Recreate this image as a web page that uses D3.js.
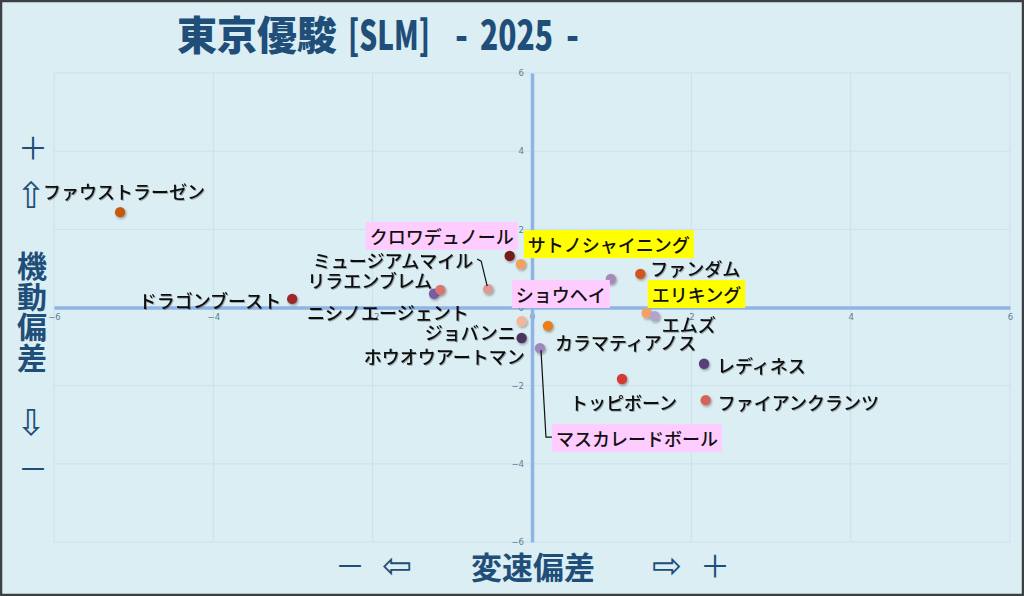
<!DOCTYPE html>
<html>
<head>
<meta charset="utf-8">
<script src="https://cdn.jsdelivr.net/npm/d3@7"></script>
<style>
html, body { margin: 0; padding: 0; background: #fff; }
svg { display: block; }
</style>
</head>
<body>
<div id="chart"></div>
<script>
// ========================
// DATA
// ========================
const horses = [
    "ファウストラーゼン", "ドラゴンブースト", "ニシノエージェント", "リラエンブレム",
    "ミュージアムマイル", "クロワデュノール", "サトノシャイニング", "ショウヘイ",
    "ファンダム", "エリキング", "エムズ", "ジョバンニ",
    "カラマティアノス", "ホウオウアートマン", "マスカレードボール", "レディネス",
    "トッピボーン", "ファイアンクランツ"
];
// 変速偏差 (x)
const speedDev = [
    -5.17, -3.01, -1.23, -1.15,
    -0.55, -0.28, -0.14, 0.99,
    1.36, 1.44, 1.54, -0.13,
    0.20, -0.13, 0.10, 2.16,
    1.13, 2.18
];
// 機動偏差 (y)
const mobilityDev = [
    2.44, 0.22, 0.35, 0.45,
    0.47, 1.32, 1.11, 0.73,
    0.86, -0.14, -0.22, -0.35,
    -0.47, -0.78, -1.04, -1.44,
    -1.83, -2.37
];
const xTicks = [-6, -4, -2, 0, 2, 4, 6];
const yTicks = [-6, -4, -2, 0, 2, 4, 6];

// ========================
// STYLE & LABEL LAYOUT
// ========================
const POINT_COLOR = {
    "ファウストラーゼン": "#c55a11", "ドラゴンブースト": "#9c2a2a", "ニシノエージェント": "#7a5ca6",
    "リラエンブレム": "#d8776d", "ミュージアムマイル": "#dc9c96", "クロワデュノール": "#771b1b",
    "サトノシャイニング": "#f1a05e", "ショウヘイ": "#a68bb9", "ファンダム": "#d1561a",
    "エリキング": "#f3a166", "エムズ": "#b4a2c9", "ジョバンニ": "#f2b79a",
    "カラマティアノス": "#e87f1f", "ホウオウアートマン": "#4a3661", "マスカレードボール": "#9f87bd",
    "レディネス": "#553f7b", "トッピボーン": "#d33a31", "ファイアンクランツ": "#d4645a"
};
const PINK = "#ffccff", YELLOW = "#ffff00";
// dx/dy: label offset from the point in px; anchor: text-anchor
const LABEL_LAYOUT = {
    "ファウストラーゼン": { dx: -77, dy: -21, anchor: "start" },
    "ドラゴンブースト": { dx: -11, dy: 1, anchor: "end" },
    "ニシノエージェント": { dx: -127, dy: 18, anchor: "start" },
    "リラエンブレム": { dx: -8, dy: -10, anchor: "end" },
    "ミュージアムマイル": { dx: -15, dy: -29, anchor: "end", leader: [[-11, -30], [-7, -28], [-1, -3]] },
    "クロワデュノール": { dx: -140, dy: -20, anchor: "start", bg: PINK },
    "サトノシャイニング": { dx: 7, dy: -20, anchor: "start", bg: YELLOW },
    "ショウヘイ": { dx: -95, dy: 15, anchor: "start", bg: PINK },
    "ファンダム": { dx: 10, dy: -6, anchor: "start" },
    "エリキング": { dx: 5, dy: -19, anchor: "start", bg: YELLOW },
    "エムズ": { dx: 7, dy: 8, anchor: "start" },
    "ジョバンニ": { dx: -6, dy: 11, anchor: "end" },
    "カラマティアノス": { dx: 7, dy: 16, anchor: "start" },
    "ホウオウアートマン": { dx: 3, dy: 18, anchor: "end" },
    "マスカレードボール": { dx: 16, dy: 90, anchor: "start", bg: PINK, leader: [[1, 2], [6, 89], [12, 89]] },
    "レディネス": { dx: 13, dy: 1, anchor: "start" },
    "トッピボーン": { dx: -52, dy: 23, anchor: "start" },
    "ファイアンクランツ": { dx: 12, dy: 2, anchor: "start" }
};

const W = 1024, H = 596;
const NAVY = "#1f4e79";
const JP = "'Noto Sans CJK JP', 'Noto Sans', sans-serif";
const ARROW_FONT = "'DejaVu Sans', sans-serif";

// ========================
// CHART
// ========================
const svg = d3.select("#chart").append("svg")
    .attr("width", W).attr("height", H);

const defs = svg.append("defs");
const ptShadow = defs.append("filter").attr("id", "ptShadow")
    .attr("x", "-50%").attr("y", "-50%").attr("width", "200%").attr("height", "200%");
ptShadow.append("feDropShadow").attr("dx", 1).attr("dy", 1.5)
    .attr("stdDeviation", 1).attr("flood-color", "#000").attr("flood-opacity", 0.35);
const txtShadow = defs.append("filter").attr("id", "txtShadow")
    .attr("x", "-10%").attr("y", "-30%").attr("width", "120%").attr("height", "160%");
txtShadow.append("feDropShadow").attr("dx", 1).attr("dy", 1)
    .attr("stdDeviation", 0.6).attr("flood-color", "#000").attr("flood-opacity", 0.3);

svg.append("rect").attr("width", W).attr("height", H).attr("fill", "#dbeef4");

const x = d3.scaleLinear().domain([-6, 6]).range([54, 1010]);
const y = d3.scaleLinear().domain([-6, 6]).range([542, 73]);

// gridlines
const grid = svg.append("g");
grid.selectAll("line.vx").data(xTicks).enter().append("line")
    .attr("x1", d => x(d)).attr("x2", d => x(d))
    .attr("y1", y(-6)).attr("y2", y(6))
    .attr("stroke", "#c9e1ed").attr("stroke-width", 1);
grid.selectAll("line.hy").data(yTicks).enter().append("line")
    .attr("y1", d => y(d)).attr("y2", d => y(d))
    .attr("x1", x(-6)).attr("x2", x(6))
    .attr("stroke", "#c9e1ed").attr("stroke-width", 1);

// axes crossing at zero
const xAxis = d3.axisBottom(x).tickValues(xTicks).tickSize(0).tickPadding(6);
const yAxis = d3.axisLeft(y).tickValues(yTicks).tickSize(0).tickPadding(8);

const gx = svg.append("g").attr("transform", `translate(0,${y(0)})`).call(xAxis);
const gy = svg.append("g").attr("transform", `translate(${x(0)},0)`).call(yAxis);
[gx, gy].forEach(g => {
    g.select(".domain").attr("stroke", "#8fb4e3").attr("stroke-width", 3.5);
    g.selectAll("text").attr("fill", "#5f7d95").attr("font-size", "8.5px")
        .attr("font-family", "'DejaVu Sans', sans-serif");
});

// points
svg.append("g").selectAll("circle")
    .data(horses).enter().append("circle")
    .attr("cx", (d, i) => x(speedDev[i]))
    .attr("cy", (d, i) => y(mobilityDev[i]))
    .attr("r", 5.2)
    .attr("fill", d => POINT_COLOR[d])
    .attr("filter", "url(#ptShadow)");

// leader lines
const line = d3.line();
const leaders = svg.append("g");
horses.forEach((h, i) => {
    const lay = LABEL_LAYOUT[h];
    if (!lay.leader) return;
    const px = x(speedDev[i]), py = y(mobilityDev[i]);
    leaders.append("path")
        .attr("d", line(lay.leader.map(p => [px + p[0], py + p[1]])))
        .attr("fill", "none").attr("stroke", "#111").attr("stroke-width", 1.2);
});

// labels
const labels = svg.append("g");
horses.forEach((h, i) => {
    const lay = LABEL_LAYOUT[h];
    const px = x(speedDev[i]), py = y(mobilityDev[i]);
    const g = labels.append("g");
    const t = g.append("text")
        .attr("x", px + lay.dx).attr("y", py + lay.dy)
        .attr("text-anchor", lay.anchor)
        .attr("dominant-baseline", "central")
        .attr("font-family", JP).attr("font-size", "18px").attr("font-weight", 500)
        .attr("fill", "#111")
        .text(h);
    if (lay.bg) {
        const bb = t.node().getBBox();
        g.insert("rect", "text")
            .attr("x", bb.x - 4).attr("y", py + lay.dy - 14)
            .attr("width", bb.width + 8).attr("height", 28)
            .attr("fill", lay.bg);
    } else {
        t.attr("filter", "url(#txtShadow)");
    }
});

// title (one text, condensed latin parts as tspans)
const title = svg.append("text").attr("y", 50).attr("font-family", JP).attr("font-size", "40px")
    .attr("font-weight", 900).attr("fill", NAVY);
title.append("tspan").attr("x", 177).text("東京優駿");
[["[SLM]", 348, 82], ["-", 455, 13], ["2025", 480, 73], ["-", 566, 13]].forEach(([s, px, len]) => {
    title.append("tspan").attr("x", px)
        .attr("textLength", len).attr("lengthAdjust", "spacingAndGlyphs").text(s);
});

// y axis title (vertical)
const yTitle = svg.append("g").attr("fill", NAVY).attr("font-family", JP);
yTitle.append("text").attr("x", 33).attr("y", 146).attr("text-anchor", "middle")
    .attr("dominant-baseline", "central").attr("font-size", "30px").attr("font-weight", 400).text("＋");
yTitle.append("text").attr("x", 31).attr("y", 195).attr("text-anchor", "middle")
    .attr("dominant-baseline", "central").attr("font-size", "36px")
    .attr("font-family", ARROW_FONT).text("⇧");
["機", "動", "偏", "差"].forEach((c, k) => {
    yTitle.append("text").attr("x", 32).attr("y", 264 + k * 30.5).attr("text-anchor", "middle")
        .attr("dominant-baseline", "central").attr("font-size", "30px").attr("font-weight", 700).text(c);
});
yTitle.append("text").attr("x", 31).attr("y", 422).attr("text-anchor", "middle")
    .attr("dominant-baseline", "central").attr("font-size", "36px")
    .attr("font-family", ARROW_FONT).text("⇩");
yTitle.append("text").attr("x", 33).attr("y", 467).attr("text-anchor", "middle")
    .attr("dominant-baseline", "central").attr("font-size", "30px").attr("font-weight", 400).text("－");

// x axis title
const xTitle = svg.append("g").attr("fill", NAVY).attr("font-family", JP);
xTitle.append("text").attr("x", 350).attr("y", 564).attr("text-anchor", "middle")
    .attr("dominant-baseline", "central").attr("font-size", "30px").text("－");
xTitle.append("text").attr("x", 397).attr("y", 565).attr("text-anchor", "middle")
    .attr("dominant-baseline", "central").attr("font-size", "36px")
    .attr("font-family", ARROW_FONT).text("⇦");
xTitle.append("text").attr("x", 533).attr("y", 565).attr("text-anchor", "middle")
    .attr("dominant-baseline", "central").attr("font-size", "31px").attr("font-weight", 700).text("変速偏差");
xTitle.append("text").attr("x", 667).attr("y", 565).attr("text-anchor", "middle")
    .attr("dominant-baseline", "central").attr("font-size", "36px")
    .attr("font-family", ARROW_FONT).text("⇨");
xTitle.append("text").attr("x", 715).attr("y", 564).attr("text-anchor", "middle")
    .attr("dominant-baseline", "central").attr("font-size", "30px").text("＋");

// outer border
svg.append("rect").attr("x", 1).attr("y", 1).attr("width", W - 2).attr("height", H - 2)
    .attr("fill", "none").attr("stroke", "#3c4043").attr("stroke-width", 2.5);
</script>
</body>
</html>
